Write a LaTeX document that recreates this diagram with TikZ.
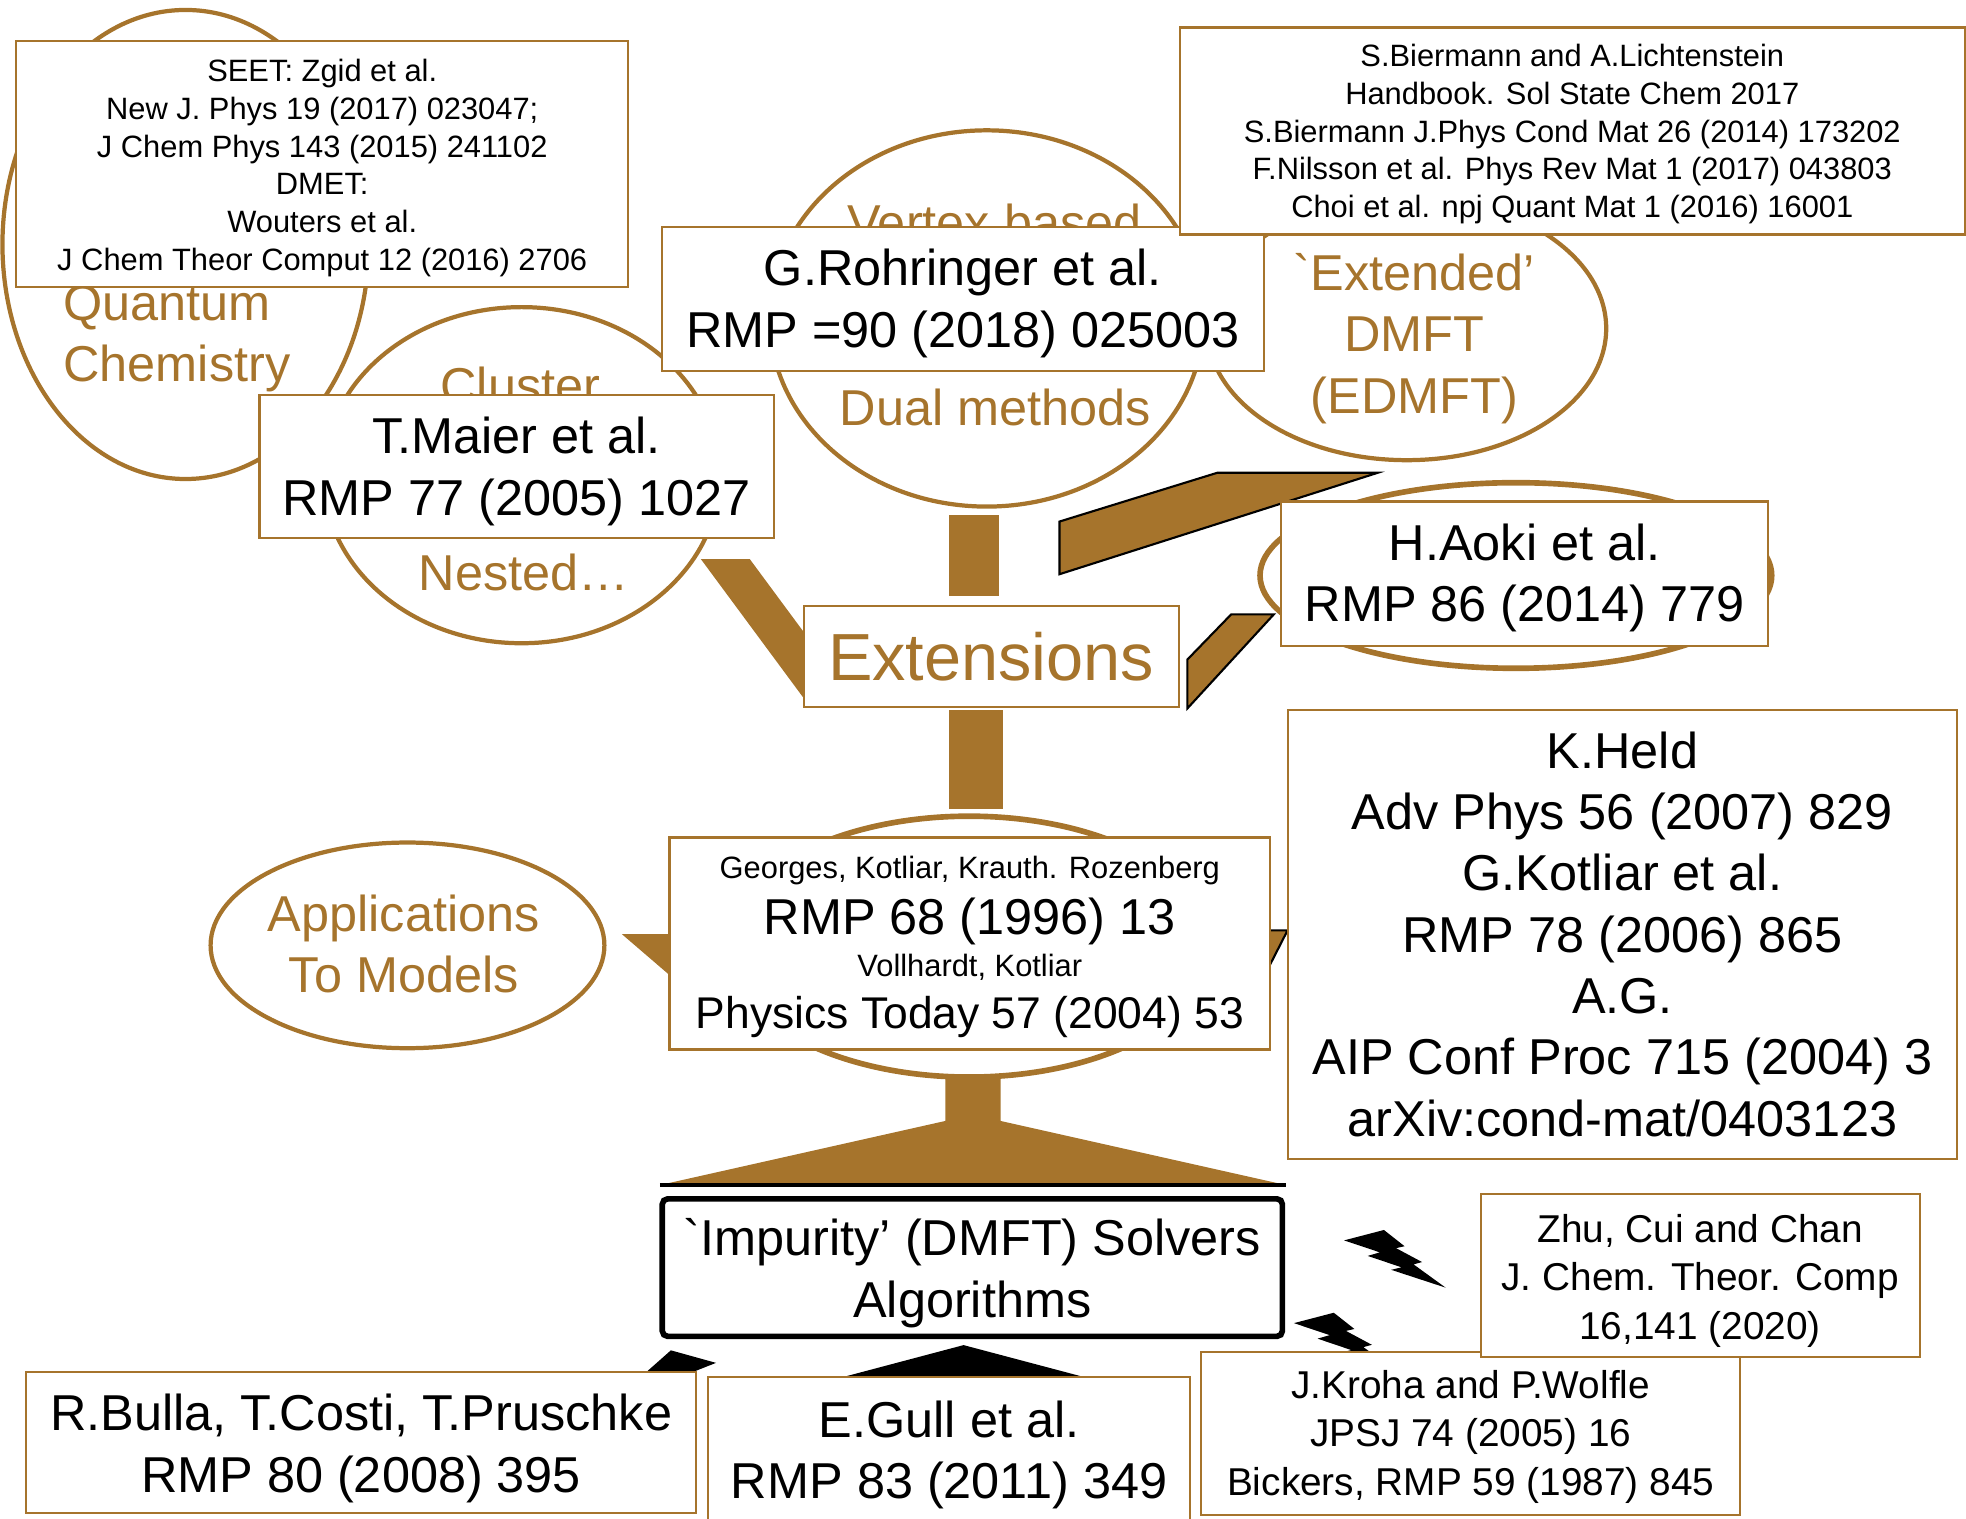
\documentclass[tikz,border=0pt]{standalone}
\usepackage{fontspec}
\setmainfont{Liberation Sans}
\usetikzlibrary{calc,shapes.geometric}

\definecolor{brn}{RGB}{166,116,44}
\newcommand\refbig{\fontsize{14.3pt}{17.4pt}\selectfont}
\newcommand\refmid{\fontsize{11pt}{13.7pt}\selectfont}
\newcommand\refsmall{\fontsize{8.75pt}{10.7pt}\selectfont}
\newcommand\reftitle{\fontsize{18.9pt}{22pt}\selectfont}
% taller first line, drops a text block a little inside its box
\newcommand\lift[1]{\rule{0pt}{#1}}
\pgfdeclarelayer{links}
\pgfsetlayers{links,main}

\begin{document}
\begin{tikzpicture}[
  x=0.0125cm, y=-0.0125cm, font=\refbig,
  ref/.style={draw=brn, fill=white, line width=0.6pt, inner sep=0pt, outer sep=0pt, align=center},
  solver/.style={draw=black, fill=white, line width=1.6pt, rounded corners=1.5pt,
    inner sep=0pt, outer sep=0pt, align=center},
  topic/.style={ellipse, draw=brn, line width=1.2pt, inner sep=0pt, outer sep=0pt},
  lbl/.style={text=brn, inner sep=0pt, align=center},
  link/.style={fill=brn},
  edged/.style={fill=brn, draw=black, line width=0.6pt},
  bolt/.pic={\fill[black, xscale=81, yscale=46]
    (0.3922,0) -- (0.5954,0.2815) -- (0.5116,0.3147) -- (0.7675,0.5559) -- (0.6837,0.5962)
    -- (1,1) -- (0.4635,0.6905) -- (0.5658,0.6475) -- (0.2325,0.4493) -- (0.3519,0.3881)
    -- (0,0.1801) -- cycle;}
]
\useasboundingbox (0,0) rectangle (1568,1211);

% topic ellipses
\node[topic, minimum width=3.65cm, minimum height=4.675cm] (qc) at (148,195) {};
\node[topic, minimum width=3.95cm, minimum height=3.35cm] (clu) at (416,379) {};
\node[topic, minimum width=4.325cm, minimum height=3.75cm] (dual) at (787,254) {};
\node[topic, minimum width=3.975cm, minimum height=2.625cm] (edm) at (1122,262) {};
\node[topic, line width=1.6pt, minimum width=5.1cm, minimum height=1.85cm] (aokell) at (1209,459) {};
\node[topic, line width=1.6pt, minimum width=4.85cm, minimum height=2.6cm] (geoell) at (773,755) {};
\node[topic, minimum width=3.925cm, minimum height=2.05cm] (app) at (325,754) {};

\node[lbl, anchor=west, align=left] (qclbl) at (50,270) {Quantum\\Chemistry};
\node[lbl, anchor=base] (clulbl) at (415,322) {Cluster};
\node[lbl, anchor=base] (nestlbl) at (418,471) {Nested…};
\node[lbl, anchor=base] (vtxlbl) at (793,192) {Vertex based};
\node[lbl, anchor=base] (duallbl) at (794,339) {Dual methods};
\node[lbl] (edmlbl) at (1128,270) {\textasciigrave Extended'\\DMFT\\(EDMFT)};
\node[lbl] (applbl) at (322,753) {Applications\\To Models};

% reference boxes
\node[ref, font=\refsmall, minimum width=6.1cm, minimum height=2.45cm] (seet) at (257,131)
  {\lift{0.975em}SEET: Zgid et al.\\New J. Phys 19 (2017) 023047;\\J Chem Phys 143 (2015) 241102\\
   DMET:\\Wouters et al.\\J Chem Theor Comput 12 (2016) 2706};
\node[ref, minimum width=6cm, minimum height=1.4375cm] (rohr) at (768,238.5)
  {\lift{0.9em}G.Rohringer et al.\\RMP =90 (2018) 025003};
\node[ref, font=\refsmall, minimum width=7.825cm, minimum height=2.0625cm] (bier) at (1254,104.5)
  {\lift{0.93em}S.Biermann and A.Lichtenstein\\Handbook. Sol State Chem 2017\\
   S.Biermann J.Phys Cond Mat 26 (2014) 173202\\
   F.Nilsson et al. Phys Rev Mat 1 (2017) 043803\\
   Choi et al. npj Quant Mat 1 (2016) 16001};
\node[ref, minimum width=5.125cm, minimum height=1.425cm] (maier) at (412,372)
  {\lift{0.93em}T.Maier et al.\\RMP 77 (2005) 1027};
\node[ref, minimum width=4.85cm, minimum height=1.4375cm] (aoki) at (1216,457.5)
  {\lift{0.9em}H.Aoki et al.\\RMP 86 (2014) 779};
\node[ref, font=\reftitle, text=brn, minimum width=3.7375cm, minimum height=1.0125cm] (ext)
  at (790.5,523.5) {Extensions};
\node[ref, minimum width=6.675cm, minimum height=4.475cm] (held) at (1294,745)
  {K.Held\\Adv Phys 56 (2007) 829\\G.Kotliar et al.\\RMP 78 (2006) 865\\A.G.\\
   AIP Conf Proc 715 (2004) 3\\arXiv:cond-mat/0403123};
\node[ref, minimum width=5.9875cm, minimum height=2.1125cm] (georges) at (773.5,752.5)
  {{\refsmall\lift{0.93em}Georges, Kotliar, Krauth. Rozenberg}\\[-1.5pt]
   RMP 68 (1996) 13\\[-5.4pt]
   {\refsmall Vollhardt, Kotliar}\\[-2.7pt]
   {\fontsize{12.6pt}{15pt}\selectfont Physics Today 57 (2004) 53}};
\node[solver, minimum width=6.18cm, minimum height=1.37cm] (solvers) at (775.5,1011)
  {\lift{0.95em}\textasciigrave Impurity' (DMFT) Solvers\\Algorithms};
\node[ref, font=\refmid, minimum width=5.375cm, minimum height=1.625cm] (kroha) at (1173,1143)
  {\lift{0.92em}J.Kroha and P.Wolfle\\JPSJ 74 (2005) 16\\Bickers, RMP 59 (1987) 845};
\node[ref, font=\refmid, minimum width=4.375cm, minimum height=1.625cm] (zhu) at (1356,1017)
  {\lift{1.02em}Zhu, Cui and Chan\\J. Chem. Theor. Comp\\16,141 (2020)};
\node[ref, minimum width=6.675cm, minimum height=1.4125cm] (bulla) at (288,1150.5)
  {\lift{0.96em}R.Bulla, T.Costi, T.Pruschke\\RMP 80 (2008) 395};
\node[ref, minimum width=4.8cm, minimum height=1.475cm] (gull) at (757,1157)
  {\lift{0.9em}E.Gull et al.\\RMP 83 (2011) 349};

% block connectors, kept under the boxes
\begin{pgfonlayer}{links}
  \fill[link] ($(dual.south)+(-30,7)$) rectangle ($(ext.north)+(6.5,-8)$);
  \fill[link] ($(ext.south)+(-33.5,2)$) rectangle ($(geoell.north)+(27,-6)$);
  \fill[link] ($(maier.south east)+(-58,17)$) -- ($(maier.south east)+(-19,17)$)
    -- ($(ext.west)+(41,36)$) -- ($(ext.west)+(2,36)$) -- cycle;
  \filldraw[edged] ($(ext.north)+(54.5,-67)$) -- ($(edm.south)+(-151,10)$)
    -- ($(edm.south)+(-23,10)$) -- ($(ext.north)+(54.5,-25)$) -- cycle;
  \filldraw[edged] ($(ext.east)+(7,2.5)$) -- ($(aoki.south west)+(-40,-25)$)
    -- ($(aoki.south west)+(-6,-25)$) -- ($(ext.east)+(7,41.5)$) -- cycle;
  \fill[link] ($(georges.west)+(-38,-7.5)$) -- ($(georges.west)+(26,-7.5)$)
    -- ($(georges.west)+(26,47.5)$) -- cycle;
  \filldraw[edged] ($(held.west)+(0,-3)$) -- ($(held.west)+(-37,-3)$)
    -- ($(held.west)+(-37,69.5)$) -- cycle;
  % stem and fan down to the solvers
  \fill[link] ($(geoell.south)+(-19,1)$) -- ($(geoell.south)+(25,1)$) -- ($(geoell.south)+(25,35)$)
    -- ($(solvers.north east)+(3,-11)$) -- ($(solvers.north west)+(-2,-11)$)
    -- ($(geoell.south)+(-19,35)$) -- cycle;
  \draw[black, line width=1.2pt] ($(solvers.north west)+(-2,-11)$) -- ($(solvers.north east)+(3,-11)$);
  \fill[black] ($(solvers.south)+(-7,7)$) -- ($(gull.north)+(114,2)$) -- ($(gull.north)+(-91,2)$) -- cycle;
  \fill[black] ($(bulla.north east)+(-46,6)$) -- ($(bulla.north east)+(-20,-17)$)
    -- ($(bulla.north east)+(16,-7)$) -- ($(bulla.north east)+(-17,6)$) -- cycle;
  \pic at (1072,981) {bolt};
  \pic at (1032,1047) {bolt};
\end{pgfonlayer}
\end{tikzpicture}
\end{document}
